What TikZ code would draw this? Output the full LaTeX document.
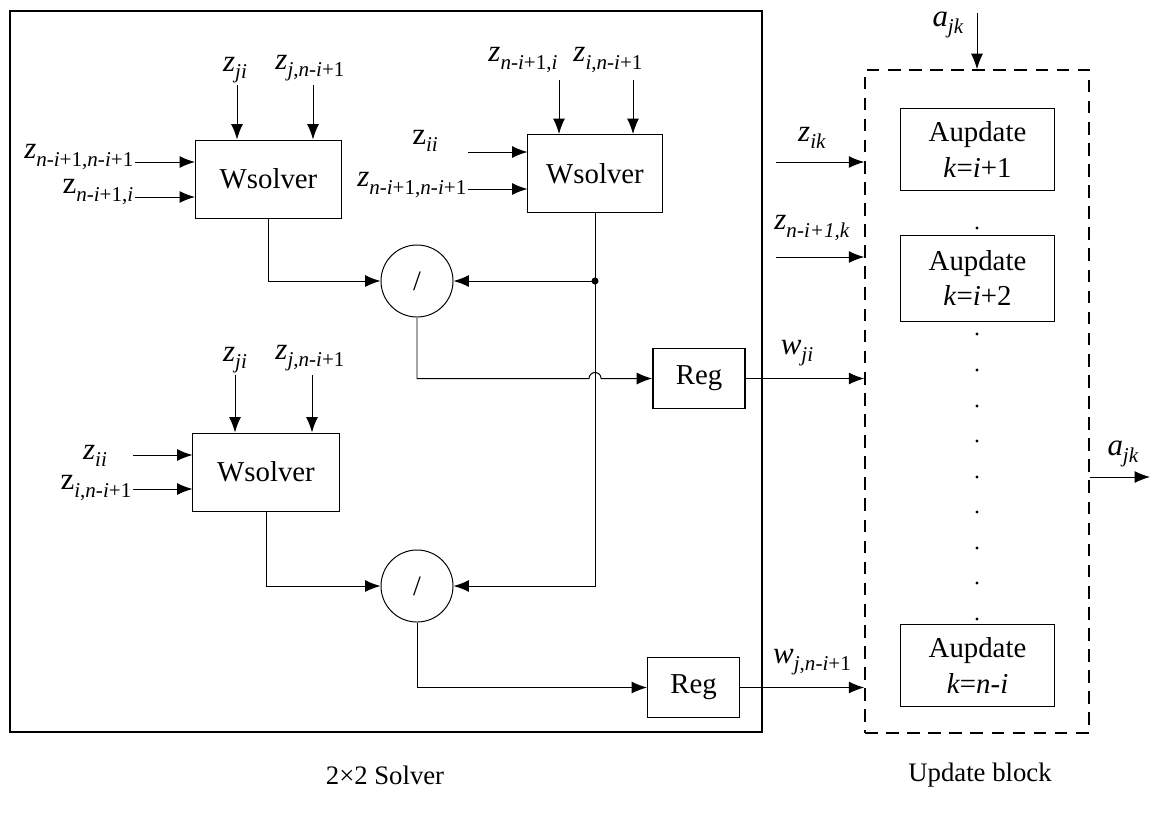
\documentclass[tikz,border=0pt]{standalone}
\usepackage{fontspec}
\setmainfont{Liberation Serif}
\usetikzlibrary{arrows.meta, positioning, calc}
% subscript label helper and the recurring index n-i+1
\newcommand{\vsub}[2]{#1\raisebox{-0.5ex}{\fontsize{15}{15}\selectfont #2}}
\newcommand{\nmi}{\textit{n}-\textit{i}+1}

\begin{document}
\begin{tikzpicture}[
    x=0.025cm, y=-0.025cm,
    blk/.style={rectangle, draw, line width=0.7pt, minimum width=3.65cm,
                minimum height=1.95cm, inner sep=0pt, font=\fontsize{20.5}{22}\selectfont},
    divnode/.style={circle, draw, line width=0.7pt, minimum size=1.8cm,
                    inner sep=0pt, font=\fontsize{20}{22}\selectfont},
    regbox/.style={rectangle, draw, line width=0.7pt, minimum width=2.3cm,
                   minimum height=1.5cm, font=\fontsize{20.5}{22}\selectfont},
    aubox/.style={rectangle, draw, line width=0.7pt, minimum width=3.85cm,
                  minimum height=2.05cm, align=center, font=\fontsize{20.5}{25}\selectfont},
    arr/.style={-{Latex[length=11pt,width=8.5pt]}, line width=0.7pt},
    lab/.style={inner sep=1pt, font=\fontsize{22}{24}\selectfont},
    caption/.style={font=\fontsize{19}{22}\selectfont}
]
    \useasboundingbox (0,0) rectangle (1162,817);

    % Frames
    \node[draw, line width=1.2pt, minimum width=18.8cm, minimum height=18.025cm] (solver) at (386,371.5) {};
    \node[draw, line width=1pt, dash pattern=on 9pt off 6pt, minimum width=5.6cm, minimum height=16.575cm] (upd) at (977,401.5) {};
    \node[caption] (solvercap) at (385,775) {2×2 Solver};
    \node[caption] (updcap) at (980,775) {Update block};

    % Solver blocks
    \node[blk] (ws1) at (268.5,179) {Wsolver};
    \node[blk, minimum width=3.35cm] (ws2) at (595,173.5) {Wsolver};
    \node[blk] (ws3) at (266,472) {Wsolver};
    \node[divnode] (div1) at (417,281) {/};
    \node[divnode] (div2) at (417,586) {/};
    \node[regbox, line width=1.2pt] (reg1) at (699,378.5) {Reg};
    \node[regbox] (reg2) at (693.5,687.5) {Reg};

    % Update blocks
    \node[aubox] (au1) at (977.5,149.5) {Aupdate\\\textit{k}=\textit{i}+1};
    \node[aubox, minimum height=2.15cm] (au2) at (977.5,278) {Aupdate\\\textit{k}=\textit{i}+2};
    \node[aubox] (au3) at (977.5,665.5) {Aupdate\\\textit{k}=\textit{n}-\textit{i}};
    \foreach \y in {228,334,370,406,441,477,512,548,583,619}
        \fill (977,\y) circle (1.1pt);

    % Inputs of the first Wsolver
    \node[lab] (zji1) at (235,70) {\vsub{\textit{z}}{\textit{ji}}};
    \node[lab] (zjn1) at (310,68) {\vsub{\textit{z}}{\textit{j},\nmi}};
    \node[lab, anchor=east] (znn1) at (135,157) {\vsub{\textit{z}}{\nmi,\nmi}};
    \node[lab, anchor=east] (zni1) at (135,192) {\vsub{z}{\nmi,\textit{i}}};
    \draw[arr] (237,85) -- (237,85 |- ws1.north);
    \draw[arr] (313,85) -- (313,85 |- ws1.north);
    \draw[arr] (znn1.east |- 0,162) -- (ws1.west |- 0,162);
    \draw[arr] (zni1.east |- 0,197) -- (ws1.west |- 0,197);

    % Inputs of the second Wsolver
    \node[lab] (zni2) at (523,60) {\vsub{\textit{z}}{\nmi,\textit{i}}};
    \node[lab] (zin2) at (608,60) {\vsub{\textit{z}}{\textit{i},\nmi}};
    \node[lab] (zii2) at (425,141) {\vsub{z}{\textit{ii}}};
    \node[lab, anchor=east] (znn2) at (468,185) {\vsub{\textit{z}}{\nmi,\nmi}};
    \draw[arr] (559,80) -- (559,80 |- ws2.north);
    \draw[arr] (633,80) -- (633,80 |- ws2.north);
    \draw[arr] (468,152) -- (ws2.west |- 0,152);
    \draw[arr] (znn2.east |- 0,189) -- (ws2.west |- 0,189);

    % Inputs of the third Wsolver
    \node[lab] (zji3) at (235,360) {\vsub{\textit{z}}{\textit{ji}}};
    \node[lab] (zjn3) at (310,358) {\vsub{\textit{z}}{\textit{j},\nmi}};
    \node[lab] (zii3) at (95,456) {\vsub{\textit{z}}{\textit{ii}}};
    \node[lab, anchor=east] (zin3) at (133,488) {\vsub{z}{\textit{i},\nmi}};
    \draw[arr] (235,375) -- (235,375 |- ws3.north);
    \draw[arr] (312,375) -- (312,375 |- ws3.north);
    \draw[arr] (133,455) -- (ws3.west |- 0,455);
    \draw[arr] (zin3.east |- 0,489) -- (ws3.west |- 0,489);

    % Division paths
    \coordinate (j1) at (ws2.south |- div1.east);
    \draw[arr] (ws1.south) |- (div1.west);
    \draw[arr] (j1) -- (div1.east);
    \draw[arr] (ws2.south) |- (div2.east);
    \fill (j1) circle (2.5pt);
    \draw[arr] (div1.south) |- ($(j1 |- reg1.west)+(-6,0)$)
        arc[start angle=180, end angle=0, radius=4.3pt] -- (reg1.west);
    \draw[arr] (ws3.south) |- (div2.west);
    \draw[arr] (div2.south) |- (reg2.west);

    % Into the update block
    \draw[arr] (reg1.east) -- (reg1.east -| upd.west);
    \node[lab] (wji) at (797,353) {\vsub{\textit{w}}{\textit{ji}}};
    \draw[arr] (reg2.east) -- (reg2.east -| upd.west);
    \node[lab] (wjn) at (812,662) {\vsub{\textit{w}}{\textit{j},\nmi}};
    \coordinate (zikin) at (776,162);
    \draw[arr] (zikin) -- (zikin -| upd.west);
    \node[lab] (zik) at (812,138) {\vsub{\textit{z}}{\textit{ik}}};
    \coordinate (znkin) at (776,257);
    \draw[arr] (znkin) -- (znkin -| upd.west);
    \node[lab] (znk) at (812,228) {\vsub{\textit{z}}{\textit{n-i+1,k}}};

    % a_jk in and out
    \coordinate (ajktop) at (977,13);
    \draw[arr] (ajktop) -- (ajktop |- upd.north);
    \node[lab] (ajkin) at (948,25) {\vsub{\textit{a}}{\textit{jk}}};
    \coordinate (ajkout) at (1150,477);
    \draw[arr] (upd.east |- ajkout) -- (ajkout);
    \node[lab] (ajkoutlab) at (1123,454) {\vsub{\textit{a}}{\textit{jk}}};
\end{tikzpicture}
\end{document}
